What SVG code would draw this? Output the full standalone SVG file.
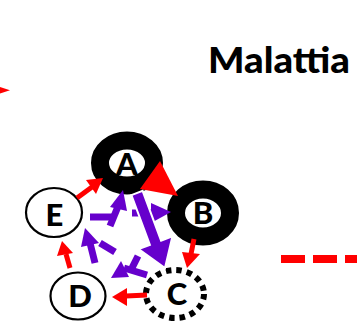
<svg xmlns="http://www.w3.org/2000/svg" width="357" height="329" viewBox="0 0 357 329">
<style>
.lbl{font-family:Lato,"Open Sans","Liberation Sans",sans-serif;font-weight:900;font-size:31px;fill:#000;text-anchor:middle}
.title{font-family:Lato,"Open Sans","Liberation Sans",sans-serif;font-weight:900;font-size:36px;fill:#000}
.ring{fill:#fff;stroke:#000;stroke-width:18}
.thin{fill:#fff;stroke:#000;stroke-width:2.2}
.red{stroke:#ff0000;stroke-width:5;fill:none}
.redh{fill:#ff0000}
.pur{stroke:#6600cc;stroke-width:7;fill:none}
.purh{fill:#6600cc}
</style>
<rect width="357" height="329" fill="#fff"/>
<text class="title" x="208" y="73" textLength="142" lengthAdjust="spacingAndGlyphs">Malattia</text>
<g id="node-A"><ellipse class="ring" cx="127" cy="163" rx="27" ry="22.5"/><text class="lbl" x="127" y="175">A</text></g>
<g id="node-B"><ellipse class="ring" cx="203" cy="213" rx="27" ry="23.5"/><text class="lbl" x="203" y="224">B</text></g>
<g id="node-C"><ellipse cx="175" cy="294" rx="29" ry="24" fill="#fff" stroke="#000" stroke-width="6" stroke-dasharray="5.5 5"/><text class="lbl" x="177" y="305">C</text></g>
<g id="node-D"><ellipse class="thin" cx="78" cy="296" rx="27.5" ry="23.5"/><text class="lbl" x="80" y="307">D</text></g>
<g id="node-E"><ellipse class="thin" cx="54" cy="212.5" rx="28" ry="24.5"/><text class="lbl" x="54.5" y="226">E</text></g>
<g id="connectors">
<polygon class="redh" points="0,87 10,90.3 0,93.5"/>
<line class="red" x1="77" y1="198" x2="92" y2="187"/>
<polygon class="redh" points="103,178 86,180 96,194"/>
<line class="red" x1="70" y1="268" x2="66" y2="254"/>
<polygon class="redh" points="62,241 57,256 73,253"/>
<line class="red" x1="147" y1="295" x2="126" y2="296"/>
<polygon class="redh" points="112,297 127,288 127,306"/>
<line class="red" x1="194" y1="239" x2="191" y2="254"/>
<polygon class="redh" points="187,268 182,252 200,254"/>
<polygon class="redh" points="160,161 140,189 178,196"/>
<line x1="281" y1="259" x2="357" y2="259" stroke="#ff0000" stroke-width="8" stroke-dasharray="24 8"/>
<line class="pur" x1="90" y1="217" x2="113" y2="217"/>
<line class="pur" x1="110" y1="226" x2="119" y2="204"/>
<polygon class="purh" points="123,190 110,207 127,211"/>
<line class="pur" x1="95" y1="263" x2="90" y2="243"/>
<line class="pur" x1="100" y1="243" x2="115" y2="252"/>
<polygon class="purh" points="85,228 81,247 99,243"/>
<line class="pur" x1="147" y1="275" x2="124" y2="268"/>
<line class="pur" x1="132" y1="268" x2="138" y2="256"/>
<polygon class="purh" points="111,278 121,261 129,277"/>
<line class="pur" x1="132" y1="213" x2="154" y2="213"/>
<polygon class="purh" points="171,212 151,203 151,223"/>
<polygon class="purh" stroke="#fff" stroke-width="2" points="131.4,195.1 142.6,190.9 161.1,240.6 172.4,236.4 165,268 138.6,249 149.9,244.8"/>
</g>
</svg>
